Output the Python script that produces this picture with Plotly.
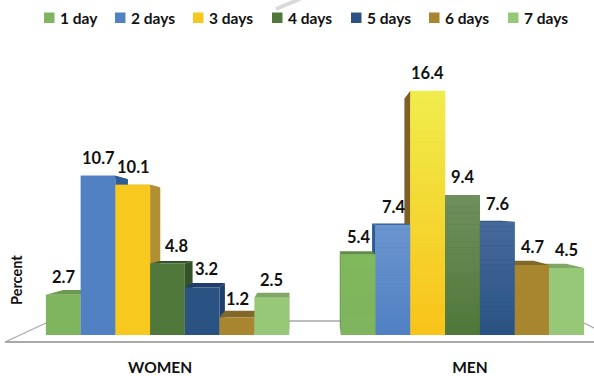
import plotly.graph_objects as go

# Share of respondents by number of days, per group
groups = ["WOMEN", "MEN"]
days = ["1 day", "2 days", "3 days", "4 days", "5 days", "6 days", "7 days"]
women = [2.7, 10.7, 10.1, 4.8, 3.2, 1.2, 2.5]
men = [5.4, 7.4, 16.4, 9.4, 7.6, 4.7, 4.5]

front_colors = ["#7FB55E", "#5181C3", "#F7C81E", "#50783A", "#2A5384", "#A8862F", "#96C878"]
depth_colors = ["#6B9A50", "#2F5C96", "#B09030", "#35532A", "#1E3E6B", "#80682A", "#7FA865"]
men_depth_colors = ["#5F8C48", "#2D5A94", "#7E5F25", "#5F8050", "#2F5486", "#80682A", "#7FA865"]
men_top_colors = ["#80B85C", "#6A94CE", "#F0EC4C", "#6F8F5C", "#45699A", "#A8862F", "#96C878"]
men_bottom_colors = ["#7FB55E", "#5181C3", "#F8C41A", "#50783A", "#2A5384", "#A8862F", "#96C878"]

W, H = 594, 376
BASE_PX = 335          # pixel row of the value zero
PX_PER_UNIT = 14.88
GROUP_STEP = 295       # pixels between the two group centres
LEFT_CENTRE = 167.5
BAR_W = 34.75 / GROUP_STEP
DEPTH = 0.07           # how far the box backs recede towards the vanishing point

x_range = [(0 - LEFT_CENTRE) / GROUP_STEP, (W - LEFT_CENTRE) / GROUP_STEP]
y_range = [0, BASE_PX / PX_PER_UNIT]
# vanishing points in axis units, one per group
vanish = [((295 - LEFT_CENTRE) / GROUP_STEP, (335 - 225) / PX_PER_UNIT),
          ((325 - LEFT_CENTRE) / GROUP_STEP, (335 - 205) / PX_PER_UNIT)]


def bar_left(g, i):
    return g + (i - 3.5) * BAR_W


def back(pt, g):
    vx, vy = vanish[g]
    return (pt[0] + DEPTH * (vx - pt[0]), pt[1] + DEPTH * (vy - pt[1]))


def poly(points, color):
    path = "M " + " L ".join(f"{x:.5f},{y:.4f}" for x, y in points) + " Z"
    return dict(type="path", path=path, xref="x", yref="y", layer="below",
                fillcolor=color, line=dict(width=0))


def hex_mix(a, b, t):
    ca = [int(a[k:k + 2], 16) for k in (1, 3, 5)]
    cb = [int(b[k:k + 2], 16) for k in (1, 3, 5)]
    return "#" + "".join(f"{round(p + (q - p) * t):02X}" for p, q in zip(ca, cb))


def paper_y(p):
    # the plot area ends at the zero row, so paper fractions are relative to it
    return 1 - p / BASE_PX


fig = go.Figure()
shapes = []
annotations = []

# Floor outline behind the boxes
line_gray = "#A9A9A9"
floor = [((5, 342), (46, 323), 1.3), ((285, 321), (345, 321), 1.3),
         ((580, 321), (594, 328), 1.3), ((5, 342), (594, 342), 1.8)]
for (x0, y0), (x1, y1), width in floor:
    shapes.append(dict(type="line", xref="paper", yref="paper", layer="below",
                       x0=x0 / W, x1=x1 / W, y0=paper_y(y0), y1=paper_y(y1),
                       line=dict(color=line_gray, width=width)))

# Pale stroke running off the top edge
shapes.append(dict(type="line", xref="paper", yref="paper", layer="below",
                   x0=276 / W, x1=300 / W, y0=paper_y(9), y1=paper_y(-1),
                   line=dict(color="#D9D9D9", width=4)))

# Top and side faces of each box, painted from the far end of the group inwards
for g, values in enumerate((women, men)):
    order = range(7) if g == 0 else range(6, -1, -1)
    for i in order:
        v = values[i]
        x0, x1 = bar_left(g, i), bar_left(g, i) + BAR_W
        depth_col = depth_colors[i] if g == 0 else men_depth_colors[i]
        # side face: right for the women's boxes, left for the men's
        edge = x1 if g == 0 else x0
        shapes.append(poly([(edge, 0), (edge, v), back((edge, v), g), back((edge, 0), g)], depth_col))
        shapes.append(poly([(x0, v), (x1, v), back((x1, v), g), back((x0, v), g)], depth_col))

# Front faces
for i, name in enumerate(days):
    fig.add_trace(go.Bar(
        x=[0, 1], y=[women[i], men[i]], name=name,
        width=BAR_W, offset=(i - 3.5) * BAR_W,
        marker=dict(color=front_colors[i], line=dict(width=0)),
        showlegend=False,
    ))

# Vertical shading on the men's boxes, built from thin slices of each value
SLICES = 24
for i, name in enumerate(days):
    if men_top_colors[i] == men_bottom_colors[i]:
        continue
    step = men[i] / SLICES
    fig.add_trace(go.Bar(
        x=[1] * SLICES, y=[step * 1.02] * SLICES, base=[step * s for s in range(SLICES)],
        width=BAR_W, offset=(i - 3.5) * BAR_W,
        marker=dict(color=[hex_mix(men_bottom_colors[i], men_top_colors[i], s / (SLICES - 1))
                           for s in range(SLICES)], line=dict(width=0)),
        showlegend=False, hoverinfo="skip",
    ))

# Value labels
label_font = dict(family="Lato", size=16.5, color="#111111")
women_nudge = [0.5, 0, 0.5, 8.5, 4.5, 0, 0]
for g, values in enumerate((women, men)):
    for i, v in enumerate(values):
        annotations.append(dict(
            x=g + (i - 3) * BAR_W, y=v, xref="x", yref="y", text=f"<b>{v}</b>",
            showarrow=False, yshift=18, xshift=women_nudge[i] if g == 0 else 0,
            font=label_font, xanchor="center", yanchor="middle",
        ))

# Legend row
legend_swatches = [44, 115, 193, 272, 351, 429, 508]
for i, name in enumerate(days):
    sx = legend_swatches[i]
    shapes.append(dict(type="rect", xref="paper", yref="paper", layer="above",
                       x0=sx / W, x1=(sx + 10.5) / W,
                       y0=paper_y(23), y1=paper_y(12.5),
                       fillcolor=front_colors[i], line=dict(width=0)))
    annotations.append(dict(x=(sx + 14) / W, y=paper_y(18.5), xref="paper", yref="paper",
                            text=f"<b>{name}</b>", showarrow=False, xanchor="left",
                            yanchor="middle", font=dict(family="Lato", size=15.5, color="#111111")))

# Vertical axis caption
annotations.append(dict(x=16 / W, y=paper_y(280), xref="paper", yref="paper",
                        text="<b>Percent</b>", textangle=-90, showarrow=False,
                        xanchor="center", yanchor="middle",
                        font=dict(family="Lato", size=14.5, color="#111111")))

fig.update_layout(
    width=W, height=H, barmode="overlay",
    margin=dict(l=0, r=0, t=0, b=H - BASE_PX, pad=0, autoexpand=False),
    paper_bgcolor="white", plot_bgcolor="rgba(0,0,0,0)",
    shapes=shapes, annotations=annotations, showlegend=False,
    xaxis=dict(range=x_range, showgrid=False, zeroline=False, showline=False, automargin=False,
               tickmode="array", tickvals=[-0.025, 1.025], ticktext=[f"<b>{g}</b>" for g in groups],
               ticks="outside", ticklen=18, tickcolor="rgba(0,0,0,0)",
               tickfont=dict(family="Lato", size=15.5, color="#111111")),
    yaxis=dict(range=y_range, visible=False),
)

fig.write_html("out.html")
